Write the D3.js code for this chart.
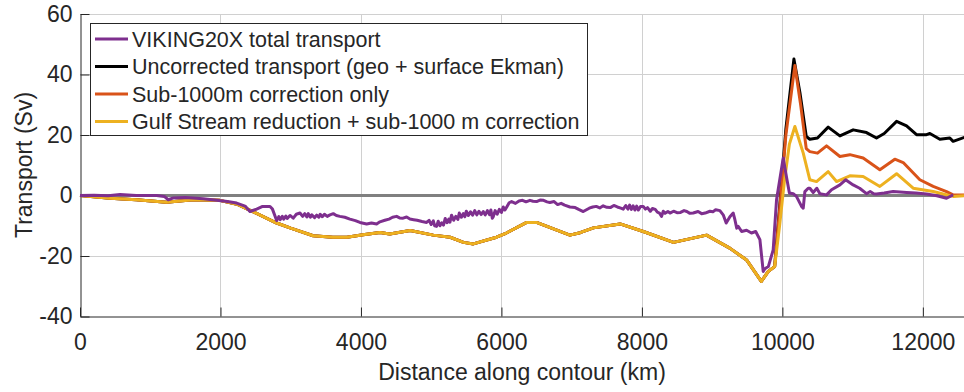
<!DOCTYPE html>
<html>
<head>
<meta charset="utf-8">
<script src="https://cdn.jsdelivr.net/npm/d3@7"></script>
<style>
  body { margin: 0; background: white; }
  text { font-family: "Liberation Sans", Arial, sans-serif; fill: #262626; }
</style>
</head>
<body>
<svg id="chart"></svg>
<script>
// distances (km) and transports (Sv)
var gulfDist = [0, 430, 800, 1230, 1610, 1990, 2250, 2460, 2800, 3000, 3320, 3600, 3800, 4030, 4270, 4410, 4700, 5030, 5270, 5460, 5600, 5930, 6070, 6360, 6500, 6975, 7120, 7310, 7690, 8020, 8450, 8920, 9250, 9490, 9700, 9800, 9890, 9960, 10030, 10100, 10178, 10297, 10391, 10486, 10652, 10771, 10961, 11150, 11388, 11626, 11862, 12147, 12431, 12600];
var gulfSv   = [0, -0.9, -1.4, -2.2, -1.4, -1.6, -3, -5.3, -9.1, -10.8, -13.3, -13.8, -13.8, -13.0, -12.2, -12.7, -11.6, -13.1, -13.8, -15.5, -16.0, -13.8, -12.4, -8.9, -8.9, -13.1, -12.3, -10.7, -9.4, -11.9, -15.5, -13.1, -17.4, -21.3, -28.4, -25.1, -23.5, -10, 5, 17, 22.8, 14.0, 5.2, 4.6, 7.9, 4.6, 6.5, 6.3, 3.0, 7.2, 2.4, 1.3, -0.3, -0.1];

var subDist = [9890, 9960, 10050, 10178, 10260, 10340, 10391, 10500, 10629, 10819, 10961, 11150, 11388, 11601, 11720, 11957, 12147, 12337, 12431, 12600];
var subSv   = [-23.5, -5, 20, 43, 30, 15.5, 14.5, 14, 16.4, 12.9, 13.5, 12.4, 8.5, 12.0, 10.9, 5.2, 3.0, 1.3, 0.2, 0.2];

var uncDist = [9890, 9960, 10050, 10164, 10250, 10340, 10391, 10500, 10652, 10819, 11008, 11198, 11340, 11450, 11626, 11768, 11910, 12052, 12100, 12242, 12384, 12431, 12600];
var uncSv   = [-23.5, -4, 22, 45.1, 34, 19.5, 18.6, 19, 22.6, 19.7, 21.7, 20.8, 19.0, 20.5, 24.5, 23.0, 20.1, 20.1, 20.5, 18.6, 19.0, 17.9, 19.3];

var vikDist = [0, 200, 400, 570, 800, 1090, 1200, 1257, 1330, 1500, 1755, 1945, 2100, 2230, 2350, 2420, 2515, 2600, 2705, 2740, 2800, 2830, 2850, 2880, 2900, 2930, 2950, 2990, 3036, 3080, 3132, 3170, 3200, 3230, 3250, 3280, 3300, 3340, 3369, 3400, 3420, 3450, 3480, 3520, 3559, 3606, 3650, 3700, 3770, 3843, 3920, 3986, 4081, 4150, 4223, 4270, 4340, 4400, 4450, 4508, 4550, 4600, 4650, 4698, 4750, 4800, 4870, 4935, 4970, 5000, 5030, 5050, 5077, 5100, 5125, 5150, 5175, 5200, 5225, 5250, 5267, 5290, 5320, 5350, 5380, 5400, 5430, 5457, 5480, 5500, 5530, 5560, 5590, 5620, 5650, 5680, 5710, 5741, 5770, 5800, 5830, 5850, 5870, 5884, 5910, 5940, 5970, 6000, 6026, 6050, 6080, 6110, 6145, 6200, 6250, 6300, 6350, 6406, 6450, 6500, 6550, 6600, 6650, 6690, 6750, 6800, 6850, 6900, 6975, 7050, 7100, 7165, 7250, 7300, 7350, 7400, 7449, 7500, 7550, 7600, 7650, 7700, 7734, 7770, 7800, 7825, 7850, 7875, 7900, 7925, 7950, 7980, 8019, 8050, 8080, 8120, 8150, 8190, 8220, 8250, 8280, 8304, 8330, 8370, 8400, 8450, 8500, 8550, 8600, 8640, 8683, 8730, 8800, 8850, 8900, 8968, 9010, 9050, 9110, 9160, 9200, 9253, 9300, 9324, 9350, 9371, 9420, 9490, 9560, 9620, 9680, 9727, 9751, 9800, 9869, 9917, 10012, 10059, 10100, 10154, 10200, 10273, 10297, 10320, 10368, 10391, 10439, 10490, 10534, 10629, 10700, 10819, 10900, 11008, 11100, 11198, 11250, 11300, 11340, 11450, 11577, 11768, 11900, 12052, 12200, 12337, 12431, 12600];
var vikSv   = [0, 0.1, -0.1, 0.3, 0, 0, -0.3, -1.4, -0.8, -0.7, -1.1, -1.6, -2.0, -2.5, -3.5, -5.3, -4.5, -3.6, -3.6, -4.5, -8.3, -7.0, -8.0, -6.9, -7.8, -6.8, -7.6, -6.6, -7.5, -6.2, -5.8, -6.9, -6.0, -7.1, -6.0, -7.2, -6.4, -7.3, -6.5, -7.2, -6.2, -7.0, -6.2, -6.9, -6.4, -6.0, -6.6, -6.9, -7.2, -7.8, -8.3, -8.9, -9.4, -9.1, -9.4, -8.7, -8.2, -7.8, -7.2, -6.9, -7.4, -7.5, -7.1, -7.8, -8.0, -8.2, -8.6, -8.9, -8.2, -9.6, -8.4, -10.0, -10.2, -8.5, -10.0, -9.0, -9.8, -7.6, -9.0, -7.8, -8.8, -6.5, -8.2, -6.9, -7.9, -5.8, -7.2, -6.0, -7.0, -5.2, -6.6, -5.4, -6.5, -5.0, -6.4, -5.2, -6.3, -5.3, -6.4, -5.0, -6.3, -4.8, -7.5, -7.0, -5.0, -6.2, -4.6, -5.6, -3.8, -4.8, -3.6, -2.4, -2.0, -2.6, -1.8, -1.6, -2.1, -1.6, -1.9, -2.0, -1.5, -1.6, -2.1, -2.3, -2.0, -3.0, -2.6, -3.2, -3.8, -4.0, -4.6, -5.3, -4.2, -3.8, -3.6, -4.1, -3.4, -3.9, -4.0, -3.3, -3.8, -4.2, -4.5, -3.3, -4.5, -3.2, -4.6, -3.4, -4.8, -3.5, -4.8, -3.6, -3.6, -4.5, -4.0, -5.2, -4.3, -4.6, -5.5, -5.8, -6.9, -5.2, -5.9, -5.3, -5.8, -5.2, -5.7, -5.6, -5.0, -5.3, -5.9, -5.8, -5.3, -6.0, -5.8, -5.2, -5.4, -4.7, -5.0, -6.5, -9.1, -7.0, -5.8, -8.0, -10.8, -10.2, -11.9, -11.5, -12.4, -11.9, -14.6, -25.1, -24.2, -23.5, -18, -1.4, 12.4, 6.0, 0.8, 0.6, -0.3, -3.6, -4.2, 1.3, 2.4, 2.4, 1.0, 2.4, 0.6, 0.2, 1.9, 3.5, 5.2, 3.5, 2.4, 0.6, 1.3, 0.6, 0.5, 0.8, 1.3, 1.0, 0.8, 0.5, -0.1, -0.9, 0.2];

var xTicks = [0, 2000, 4000, 6000, 8000, 10000, 12000];
var yTicks = [-40, -20, 0, 20, 40, 60];
var legendNames = ["VIKING20X total transport", "Uncorrected transport (geo + surface Ekman)", "Sub-1000m correction only", "Gulf Stream reduction + sub-1000 m correction"];
var legendColors = ["#7e2f8e", "#000000", "#d95319", "#edb120"];

var width = 964;
var height = 392;

var svg = d3.select("#chart")
            .attr("width", width)
            .attr("height", height);

var x = d3.scaleLinear().domain([0, 12600]).range([80, 965]);
var y = d3.scaleLinear().domain([-40, 60]).range([316.5, 14]);

// grid
svg.append("g")
   .selectAll("line")
   .data(xTicks.slice(1))
   .enter()
   .append("line")
   .attr("x1", function(d) { return Math.round(x(d)) + 0.5; })
   .attr("x2", function(d) { return Math.round(x(d)) + 0.5; })
   .attr("y1", y(60))
   .attr("y2", y(-40))
   .attr("stroke", "#d0d0d0")
   .attr("stroke-width", 1);

svg.append("g")
   .selectAll("line")
   .data(yTicks.slice(1))
   .enter()
   .append("line")
   .attr("x1", x(0))
   .attr("x2", width)
   .attr("y1", function(d) { return Math.round(y(d)) + 0.5; })
   .attr("y2", function(d) { return Math.round(y(d)) + 0.5; })
   .attr("stroke", "#d0d0d0")
   .attr("stroke-width", 1);

// axes
var xAxis = d3.axisBottom(x).tickValues(xTicks).tickFormat(d3.format("d"))
              .tickSizeInner(-9).tickSizeOuter(0).tickPadding(17);
var yAxis = d3.axisLeft(y).tickValues(yTicks).tickFormat(function(d) { return d < 0 ? "-" + Math.abs(d) : d; })
              .tickSizeInner(-9).tickSizeOuter(0).tickPadding(8);

var gx = svg.append("g").attr("transform", "translate(0," + 316.5 + ")").call(xAxis);
var gy = svg.append("g").attr("transform", "translate(" + 80.5 + ",0)").call(yAxis);

[gx, gy].forEach(function(g)
{
  g.select(".domain").attr("stroke", "#262626");
  g.selectAll(".tick line").attr("stroke", "#262626");
  g.selectAll("text").style("font-size", "23px").attr("fill", "#262626");
});

// zero line
svg.append("line")
   .attr("x1", x(0))
   .attr("x2", width)
   .attr("y1", y(0))
   .attr("y2", y(0))
   .attr("stroke", "#808080")
   .attr("stroke-width", 3);

var line = d3.line()
             .x(function(d) { return x(d[0]); })
             .y(function(d) { return y(d[1]); });

function pairs(dist, sv) { return dist.map(function(d, i) { return [d, sv[i]]; }); }

var gulfBase = pairs(gulfDist, gulfSv).filter(function(d) { return d[0] < 9890; });

var series = [
  { data: gulfBase.concat(pairs(uncDist, uncSv)), color: legendColors[1] },
  { data: gulfBase.concat(pairs(subDist, subSv)), color: legendColors[2] },
  { data: pairs(gulfDist, gulfSv), color: legendColors[3] },
  { data: pairs(vikDist, vikSv), color: legendColors[0] }
];

svg.append("g")
   .selectAll("path")
   .data(series)
   .enter()
   .append("path")
   .attr("d", function(d) { return line(d.data); })
   .attr("fill", "none")
   .attr("stroke", function(d) { return d.color; })
   .attr("stroke-width", 3)
   .attr("stroke-linejoin", "round");

// axis labels
svg.append("text")
   .attr("x", 522)
   .attr("y", 380)
   .attr("text-anchor", "middle")
   .style("font-size", "23px")
   .text("Distance along contour (km)");

svg.append("text")
   .attr("transform", "translate(32,165) rotate(-90)")
   .attr("text-anchor", "middle")
   .style("font-size", "23px")
   .text("Transport (Sv)");

/*legend*/
var legend = svg.append("g");

legend.append("rect")
      .attr("x", 90.5)
      .attr("y", 23.5)
      .attr("width", 497)
      .attr("height", 112)
      .attr("fill", "white")
      .attr("stroke", "#262626")
      .attr("stroke-width", 1);

legend.selectAll("line")
      .data(legendNames)
      .enter()
      .append("line")
      .attr("x1", 95)
      .attr("x2", 128)
      .attr("y1", function(d, i) { return 39 + i * 27.5; })
      .attr("y2", function(d, i) { return 39 + i * 27.5; })
      .attr("stroke", function(d, i) { return legendColors[i]; })
      .attr("stroke-width", 3);

legend.selectAll("text")
      .data(legendNames)
      .enter()
      .append("text")
      .attr("x", 132)
      .attr("y", function(d, i) { return 46.5 + i * 27.5; })
      .style("font-size", "21.5px")
      .text(function(d) { return d; });
</script>
</body>
</html>
